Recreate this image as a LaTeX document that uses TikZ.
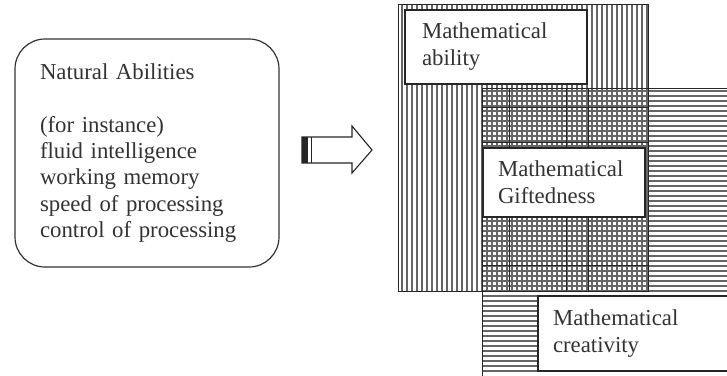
\documentclass[tikz,border=0pt]{standalone}
\usepackage{fontspec}
\setmainfont{Liberation Serif}
\begin{document}
\begin{tikzpicture}[x=1pt,y=-1pt,
  txt/.style={text=black!80, font=\fontsize{22.8}{27}\selectfont},
  hatch/.style={draw=black!60, line width=1.1pt},
  heavy/.style={draw=black!85, line width=1pt},
  region/.style={draw=black!85, line width=1.1pt},
  labelbox/.style={txt, draw=black!85, line width=1.2pt, fill=white, align=left, anchor=center, inner ysep=0pt}]
\clip (0,0) rectangle (727,375);
\fill[white] (0,0) rectangle (727,375);
% left box
\node[txt, draw=black!80, line width=1.2pt, rounded corners=30pt, align=left,
  text width=214pt, inner xsep=25pt, minimum height=228pt,
  font=\fontsize{22.8}{26.3}\selectfont] (nat) at (147,153)
  {Natural Abilities\\[26.3pt](for instance)\\fluid intelligence\\working memory\\speed of processing\\control of processing};
% arrow
\coordinate (a1) at (302,137);
\draw[black!85, line width=1.1pt, line join=miter] (a1) -- (352,137) -- (352,126) -- (372,150) -- (352,173) -- (352,163) -- (302,163) -- cycle;
\fill[black!85] (302,137) rectangle (308,163);
\draw[black!85, line width=1pt] (311,137) -- (311,163);
% vertical stripes (ability)
\foreach \x in {402,407,...,647} \draw[hatch] (\x,4) -- (\x,292);
% horizontal stripes (creativity)
\foreach \y in {91,96,...,375} \draw[hatch] (482,\y) -- (740,\y);
% heavier grid lines in overlap
\foreach \x in {509,566,588} \draw[heavy] (\x,88) -- (\x,291);
\foreach \y in {107,142,265} \draw[heavy] (483,\y) -- (648,\y);
% region borders
\draw[region] (398.5,4.5) rectangle (648.5,291.5);
\draw[region] (482.5,88.5) rectangle (740,380);
% label boxes
\node[labelbox, minimum width=182pt, minimum height=74pt, text width=148pt, inner xsep=17pt] (abil) at (496,47) {Mathematical\\ability};
\node[labelbox, minimum width=162pt, minimum height=69pt, text width=132pt, inner xsep=15pt] (gift) at (564,182.5) {Mathematical\\Giftedness};
\node[labelbox, minimum width=200pt, minimum height=75pt, text width=170pt, inner xsep=15pt] (crea) at (638,333.5) {Mathematical\\creativity};
\end{tikzpicture}
\end{document}
